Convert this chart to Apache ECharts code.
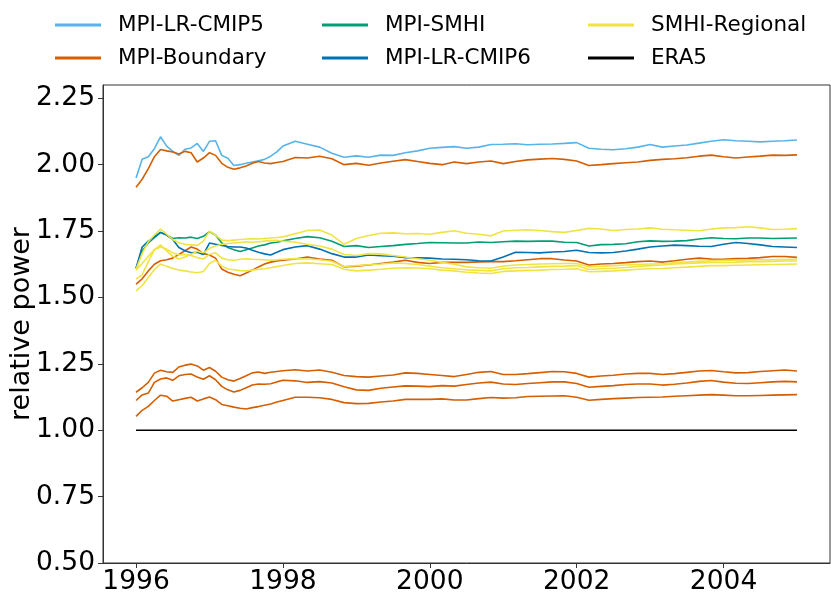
<!DOCTYPE html>
<html>
<head>
<meta charset="utf-8">
<script src="https://cdn.jsdelivr.net/npm/echarts@6/dist/echarts.min.js"></script>
<style>
html,body{margin:0;padding:0;background:#fff;}
#chart{width:831px;height:600px;}
</style>
</head>
<body>
<div id="chart"></div>
<script>
// time axis (decimal years)
const years = [1996.000,1996.083,1996.167,1996.250,1996.333,1996.417,1996.500,1996.583,1996.667,1996.750,1996.833,1996.917,
1997.000,1997.083,1997.167,1997.250,1997.333,1997.417,1997.500,1997.583,1997.667,1997.750,1997.833,1997.917,
1998.000,1998.167,1998.333,1998.500,1998.667,1998.833,1999.000,1999.167,1999.333,1999.500,1999.667,1999.833,
2000.000,2000.167,2000.333,2000.500,2000.667,2000.833,2001.000,2001.167,2001.333,2001.500,2001.667,2001.833,
2002.000,2002.167,2002.333,2002.500,2002.667,2002.833,2003.000,2003.167,2003.333,2003.500,2003.667,2003.833,
2004.000,2004.167,2004.333,2004.500,2004.667,2004.833,2005.000];

const xTicks = [1996, 1998, 2000, 2002, 2004];
const yTicks = [0.5, 0.75, 1.0, 1.25, 1.5, 1.75, 2.0, 2.25];

const mpiLrCmip5 = [1.950,2.020,2.030,2.060,2.105,2.070,2.050,2.035,2.058,2.063,2.080,2.050,
2.088,2.090,2.035,2.024,1.997,2.000,2.005,2.010,2.015,2.020,2.032,2.048,
2.070,2.088,2.077,2.066,2.043,2.028,2.033,2.028,2.036,2.035,2.045,2.052,
2.062,2.065,2.068,2.062,2.066,2.076,2.077,2.079,2.075,2.077,2.078,2.080,
2.083,2.062,2.058,2.056,2.060,2.066,2.076,2.066,2.070,2.074,2.081,2.088,
2.094,2.090,2.088,2.086,2.088,2.090,2.093];

const mpiBoundary1 = [1.915,1.945,1.985,2.030,2.057,2.052,2.048,2.040,2.050,2.045,2.010,2.025,
2.045,2.035,2.005,1.990,1.983,1.988,1.995,2.005,2.012,2.006,2.004,2.008,
2.012,2.027,2.025,2.032,2.022,2.000,2.005,1.998,2.006,2.013,2.019,2.012,
2.005,2.000,2.010,2.004,2.010,2.014,2.004,2.012,2.018,2.021,2.023,2.020,
2.014,1.997,2.000,2.004,2.007,2.010,2.016,2.020,2.022,2.026,2.032,2.036,
2.030,2.025,2.029,2.032,2.036,2.035,2.037];

const mpiBoundary2 = [1.550,1.570,1.600,1.625,1.638,1.642,1.648,1.662,1.676,1.690,1.682,1.665,
1.660,1.648,1.607,1.595,1.587,1.582,1.592,1.603,1.615,1.626,1.633,1.637,
1.640,1.645,1.652,1.645,1.640,1.615,1.618,1.622,1.628,1.633,1.640,1.632,
1.628,1.632,1.632,1.632,1.634,1.635,1.635,1.638,1.642,1.646,1.646,1.641,
1.637,1.622,1.626,1.628,1.631,1.635,1.637,1.633,1.638,1.644,1.648,1.645,
1.644,1.646,1.647,1.650,1.654,1.654,1.651];

const mpiBoundary3 = [1.143,1.160,1.180,1.215,1.226,1.220,1.218,1.238,1.245,1.249,1.242,1.226,
1.236,1.222,1.200,1.190,1.185,1.195,1.205,1.216,1.219,1.214,1.218,1.221,
1.224,1.228,1.223,1.227,1.218,1.206,1.202,1.200,1.204,1.208,1.216,1.214,
1.210,1.206,1.202,1.210,1.218,1.221,1.210,1.210,1.213,1.217,1.221,1.220,
1.214,1.200,1.204,1.207,1.212,1.214,1.214,1.210,1.213,1.218,1.223,1.225,
1.220,1.216,1.217,1.221,1.224,1.227,1.223];

const mpiBoundary4 = [1.112,1.133,1.140,1.180,1.193,1.197,1.188,1.205,1.210,1.212,1.200,1.192,
1.205,1.190,1.165,1.152,1.144,1.150,1.160,1.170,1.174,1.173,1.175,1.182,
1.188,1.186,1.180,1.183,1.178,1.164,1.152,1.150,1.158,1.163,1.167,1.166,
1.164,1.168,1.166,1.172,1.178,1.181,1.174,1.172,1.176,1.179,1.182,1.182,
1.176,1.162,1.165,1.168,1.172,1.174,1.174,1.170,1.173,1.178,1.184,1.187,
1.181,1.177,1.176,1.179,1.182,1.184,1.182];

const mpiBoundary5 = [1.052,1.075,1.090,1.112,1.132,1.128,1.110,1.115,1.120,1.124,1.110,1.118,
1.125,1.115,1.097,1.092,1.087,1.083,1.080,1.085,1.089,1.094,1.099,1.106,
1.112,1.124,1.124,1.122,1.116,1.104,1.100,1.101,1.106,1.110,1.116,1.116,
1.116,1.118,1.114,1.114,1.119,1.123,1.121,1.122,1.127,1.128,1.129,1.130,
1.124,1.113,1.116,1.119,1.121,1.123,1.124,1.125,1.128,1.130,1.132,1.134,
1.132,1.130,1.130,1.131,1.132,1.133,1.134];

const mpiSmhi = [1.610,1.675,1.705,1.725,1.745,1.735,1.722,1.725,1.724,1.727,1.722,1.730,
1.748,1.735,1.705,1.688,1.680,1.673,1.680,1.686,1.694,1.698,1.705,1.708,
1.713,1.722,1.729,1.725,1.712,1.692,1.695,1.688,1.692,1.695,1.700,1.703,
1.707,1.706,1.705,1.705,1.709,1.707,1.710,1.712,1.711,1.712,1.712,1.708,
1.707,1.694,1.699,1.700,1.702,1.710,1.713,1.711,1.712,1.714,1.720,1.725,
1.722,1.721,1.724,1.724,1.722,1.723,1.724];

const mpiLrCmip6 = [1.610,1.690,1.712,1.728,1.745,1.735,1.718,1.688,1.676,1.668,1.670,1.662,
1.705,1.700,1.696,1.692,1.690,1.690,1.686,1.678,1.670,1.664,1.660,1.670,
1.680,1.690,1.695,1.682,1.665,1.652,1.652,1.660,1.657,1.655,1.650,1.649,
1.648,1.645,1.644,1.642,1.638,1.637,1.652,1.670,1.669,1.668,1.671,1.673,
1.678,1.669,1.668,1.669,1.675,1.682,1.690,1.694,1.697,1.695,1.693,1.692,
1.700,1.707,1.703,1.698,1.692,1.690,1.688];

const smhiRegional1 = [1.607,1.665,1.710,1.735,1.757,1.738,1.718,1.706,1.700,1.698,1.696,1.712,
1.750,1.735,1.716,1.714,1.716,1.718,1.720,1.721,1.720,1.722,1.724,1.726,
1.728,1.740,1.752,1.754,1.735,1.700,1.722,1.733,1.742,1.743,1.740,1.741,
1.738,1.745,1.751,1.742,1.738,1.732,1.750,1.753,1.755,1.752,1.748,1.745,
1.752,1.760,1.758,1.752,1.756,1.758,1.762,1.757,1.755,1.753,1.751,1.758,
1.762,1.763,1.766,1.762,1.756,1.757,1.759];

const smhiRegional2 = [1.569,1.585,1.635,1.680,1.698,1.675,1.655,1.645,1.652,1.663,1.674,1.668,
1.685,1.694,1.700,1.703,1.705,1.707,1.710,1.708,1.710,1.712,1.714,1.715,
1.712,1.708,1.700,1.694,1.682,1.662,1.658,1.665,1.664,1.658,1.652,1.646,
1.640,1.632,1.625,1.615,1.612,1.610,1.618,1.622,1.624,1.626,1.627,1.628,
1.628,1.615,1.617,1.620,1.622,1.624,1.626,1.627,1.630,1.633,1.636,1.638,
1.640,1.640,1.641,1.642,1.642,1.643,1.644];

const smhiRegional3 = [1.603,1.628,1.655,1.680,1.690,1.682,1.668,1.660,1.662,1.658,1.650,1.645,
1.662,1.668,1.648,1.642,1.640,1.644,1.646,1.644,1.643,1.642,1.640,1.642,
1.644,1.646,1.645,1.642,1.636,1.616,1.620,1.623,1.626,1.630,1.628,1.624,
1.618,1.612,1.608,1.604,1.602,1.600,1.608,1.612,1.613,1.615,1.617,1.618,
1.620,1.605,1.608,1.610,1.613,1.617,1.620,1.622,1.626,1.628,1.630,1.632,
1.632,1.633,1.635,1.635,1.636,1.637,1.637];

const smhiRegional4 = [1.525,1.545,1.575,1.605,1.626,1.617,1.609,1.603,1.600,1.596,1.593,1.598,
1.628,1.640,1.618,1.607,1.604,1.601,1.600,1.603,1.606,1.608,1.612,1.616,
1.620,1.628,1.630,1.627,1.624,1.606,1.600,1.603,1.606,1.610,1.612,1.611,
1.608,1.603,1.600,1.595,1.592,1.590,1.598,1.600,1.602,1.603,1.605,1.606,
1.608,1.597,1.598,1.600,1.603,1.606,1.608,1.609,1.612,1.614,1.617,1.620,
1.620,1.621,1.622,1.623,1.624,1.625,1.626];

const era5Years = [1996, 2005];
const era5 = [1.0, 1.0];

const colors = {
  'MPI-LR-CMIP5': '#56B4E9',
  'MPI-Boundary': '#D55E00',
  'MPI-SMHI': '#009E73',
  'MPI-LR-CMIP6': '#0072B2',
  'SMHI-Regional': '#F0E442',
  'ERA5': '#000000'
};

function mk(name, xs, vals) {
  return {
    type: 'line', name: name,
    data: xs.map((t, i) => [t, vals[i]]),
    showSymbol: false, symbol: 'none',
    lineStyle: { color: colors[name], width: 1.6 },
    itemStyle: { color: colors[name] },
    animation: false
  };
}

const series = [
  mk('MPI-LR-CMIP5', years, mpiLrCmip5),
  mk('MPI-Boundary', years, mpiBoundary1),
  mk('MPI-Boundary', years, mpiBoundary2),
  mk('MPI-Boundary', years, mpiBoundary3),
  mk('MPI-Boundary', years, mpiBoundary4),
  mk('MPI-Boundary', years, mpiBoundary5),
  mk('MPI-SMHI', years, mpiSmhi),
  mk('MPI-LR-CMIP6', years, mpiLrCmip6),
  mk('SMHI-Regional', years, smhiRegional1),
  mk('SMHI-Regional', years, smhiRegional2),
  mk('SMHI-Regional', years, smhiRegional3),
  mk('SMHI-Regional', years, smhiRegional4),
  mk('ERA5', era5Years, era5)
];

const FONT = 'DejaVu Sans';
function leg(left, names) {
  return {
    orient: 'vertical', left: left, top: 13, padding: 0,
    itemWidth: 46, itemHeight: 3, itemGap: 9, icon: 'rect',
    data: names,
    textStyle: { fontFamily: FONT, fontSize: 21.5, color: '#000', lineHeight: 24, padding: [0, 0, 0, 12] },
    selectedMode: false
  };
}

const chart = echarts.init(document.getElementById('chart'), null, { renderer: 'canvas' });
chart.setOption({
  backgroundColor: '#fff',
  animation: false,
  legend: [
    leg(55, ['MPI-LR-CMIP5', 'MPI-Boundary']),
    leg(322, ['MPI-SMHI', 'MPI-LR-CMIP6']),
    leg(588, ['SMHI-Regional', 'ERA5'])
  ],
  grid: { left: 103, right: 1, top: 85, bottom: 37, show: true, borderColor: '#333', borderWidth: 1,
          containLabel: false, outerBoundsMode: 'none' },
  xAxis: {
    type: 'value', min: 1995.55, max: 2005.45,
    axisLine: { show: true, lineStyle: { color: '#333', width: 1 } },
    axisTick: { show: true, length: 5, lineStyle: { color: '#333' }, customValues: xTicks },
    axisLabel: { customValues: xTicks, fontFamily: FONT, fontSize: 26.5, color: '#000', margin: 6, formatter: v => String(Math.round(v)) },
    splitLine: { show: false }
  },
  yAxis: {
    type: 'value', min: 0.5, max: 2.3,
    name: 'relative power', nameLocation: 'middle', nameGap: 68, nameRotate: 90, nameMoveOverlap: false,
    nameTextStyle: { fontFamily: FONT, fontSize: 27, color: '#000' },
    axisLine: { show: true, lineStyle: { color: '#333', width: 1 } },
    axisTick: { show: true, length: 5, lineStyle: { color: '#333' }, customValues: yTicks },
    axisLabel: { customValues: yTicks, fontFamily: FONT, fontSize: 26.5, color: '#000', margin: 8, formatter: v => v.toFixed(2) },
    splitLine: { show: false }
  },
  series: series
});
</script>
</body>
</html>
